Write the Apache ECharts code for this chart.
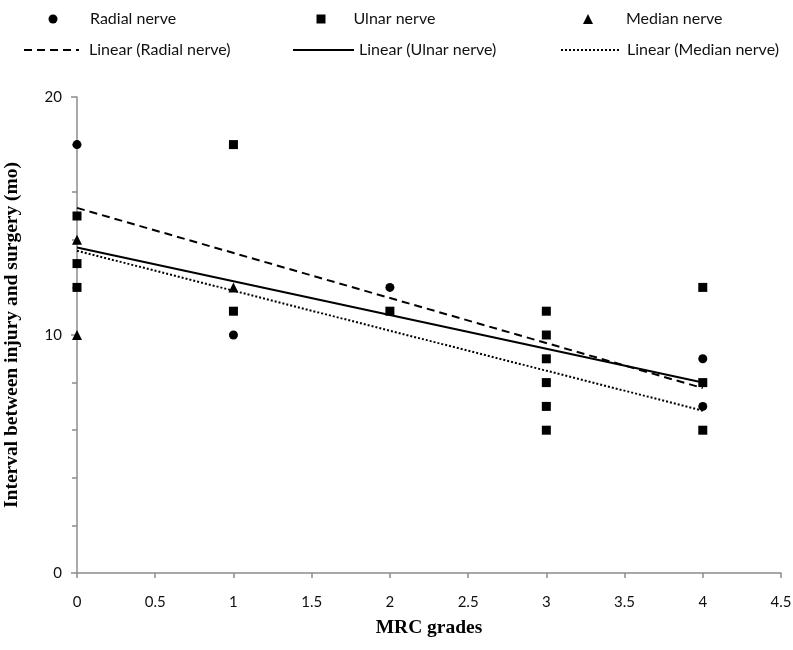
<!DOCTYPE html>
<html>
<head>
<meta charset="utf-8">
<script src="https://cdn.jsdelivr.net/npm/echarts@6/dist/echarts.min.js"></script>
<style>html,body{margin:0;padding:0;background:#fff}#c{width:793px;height:650px}</style>
</head>
<body>
<div id="c"></div>
<script>
// MRC grade (x) and interval in months (y)
const radialX = [0, 1, 2, 4, 4];
const radialY = [18, 10, 12, 9, 7];
const ulnarX = [0, 0, 0, 1, 1, 2, 3, 3, 3, 3, 3, 3, 4, 4, 4];
const ulnarY = [15, 13, 12, 18, 11, 11, 11, 10, 9, 8, 7, 6, 12, 8, 6];
const medianX = [0, 0, 1];
const medianY = [14, 10, 12];
// Trend line end points (x = 0 and x = 4)
const trendX = [0, 4];
const radialTrendY = [15.34, 7.77];
const ulnarTrendY = [13.68, 8.0];
const medianTrendY = [13.54, 6.82];
const xTicks = [0, 0.5, 1, 1.5, 2, 2.5, 3, 3.5, 4, 4.5];
const yTicks = [0, 10, 20];

const pair = (xs, ys) => xs.map((x, i) => [x, ys[i]]);
const FONT = 'Lato';
function txt(padLeft) {
  return {fontFamily: FONT, fontSize: 16, color: '#111', padding: [0, 0, 0, padLeft]};
}
function leg(name, left, top, w, h, padLeft, extra) {
  return Object.assign({
    data: [name], left: left, top: top, itemWidth: w, itemHeight: h,
    padding: 0, orient: 'horizontal', textStyle: txt(padLeft), selectedMode: false
  }, extra || {});
}
const hideSym = {itemStyle: {color: 'rgba(0,0,0,0)', opacity: 0, borderWidth: 0}};

const chart = echarts.init(document.getElementById('c'), null, {renderer: 'canvas'});
chart.setOption({
  animation: false,
  backgroundColor: '#fff',
  legend: [
    leg('Radial nerve', 48.5, 11, 9, 9, 27.5),
    leg('Ulnar nerve', 316.5, 11, 9, 9, 23),
    leg('Median nerve', 583, 11, 10, 10, 28),
    leg('Linear (Radial nerve)', 23, 42, 55, 14, 5, hideSym),
    leg('Linear (Ulnar nerve)', 292, 42, 61, 14, 0, hideSym),
    leg('Linear (Median nerve)', 560, 42, 59, 14, 2, hideSym)
  ],
  grid: {left: 77, right: 12, top: 97, bottom: 77, containLabel: false, outerBoundsMode: 'none'},
  xAxis: {
    type: 'value', min: xTicks[0], max: xTicks[xTicks.length - 1], interval: 0.5,
    name: 'MRC grades', nameLocation: 'middle', nameGap: 45,
    nameTextStyle: {fontFamily: 'Liberation Serif', fontWeight: 'bold', fontSize: 19.5, color: '#000'},
    axisLine: {show: true, onZero: false, lineStyle: {color: '#8c8c8c', width: 1.5}},
    axisTick: {show: true, length: 5, lineStyle: {color: '#8c8c8c', width: 1.5}},
    axisLabel: {margin: 22, fontFamily: FONT, fontSize: 15, color: '#111',
      formatter: v => (xTicks.indexOf(v) >= 0 ? String(v) : '')},
    splitLine: {show: false}
  },
  yAxis: {
    type: 'value', min: yTicks[0], max: yTicks[yTicks.length - 1], interval: 10,
    name: 'Interval between injury and surgery (mo)', nameLocation: 'middle', nameGap: 55,
    nameTextStyle: {fontFamily: 'Liberation Serif', fontWeight: 'bold', fontSize: 19.5, color: '#000'},
    axisLine: {show: true, lineStyle: {color: '#8c8c8c', width: 1.5}},
    axisTick: {show: true, length: 6, lineStyle: {color: '#8c8c8c', width: 1.5}},
    minorTick: {show: true, splitNumber: 5, length: 5, lineStyle: {color: '#8c8c8c', width: 1.5}},
    axisLabel: {margin: 15, fontFamily: FONT, fontSize: 15, color: '#111'},
    splitLine: {show: false}
  },
  series: [
    {name: 'Radial nerve', type: 'scatter', symbol: 'circle', symbolSize: 9,
      itemStyle: {color: '#000', opacity: 1}, data: pair(radialX, radialY), z: 5},
    {name: 'Ulnar nerve', type: 'scatter', symbol: 'rect', symbolSize: 9,
      itemStyle: {color: '#000', opacity: 1}, data: pair(ulnarX, ulnarY), z: 5},
    {name: 'Median nerve', type: 'scatter', symbol: 'triangle', symbolSize: [10, 10],
      itemStyle: {color: '#000', opacity: 1}, data: pair(medianX, medianY), z: 5},
    {name: 'Linear (Radial nerve)', type: 'line', symbol: 'none', itemStyle: {color: '#000'},
      lineStyle: {color: '#000', width: 2, type: [8, 5]}, data: pair(trendX, radialTrendY)},
    {name: 'Linear (Ulnar nerve)', type: 'line', symbol: 'none', itemStyle: {color: '#000'},
      lineStyle: {color: '#000', width: 2, type: 'solid'}, data: pair(trendX, ulnarTrendY)},
    {name: 'Linear (Median nerve)', type: 'line', symbol: 'none', itemStyle: {color: '#000'},
      lineStyle: {color: '#000', width: 2, type: [2, 2]}, data: pair(trendX, medianTrendY)}
  ]
});
</script>
</body>
</html>
